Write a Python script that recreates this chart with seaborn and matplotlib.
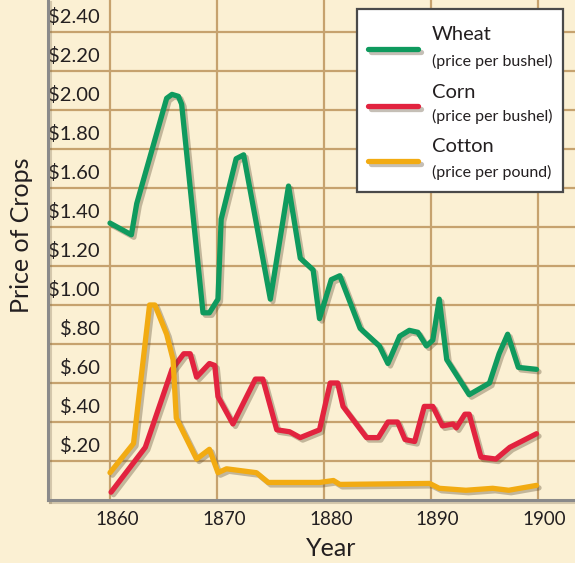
import pandas as pd
import matplotlib.pyplot as plt
import matplotlib.patheffects as pe
import matplotlib.transforms as mtransforms
from matplotlib.lines import Line2D
from matplotlib.patches import Rectangle
import seaborn as sns

# ==========================================
# DATA
# ==========================================

wheat_years = [1860.0, 1862.0, 1862.5, 1865.3, 1865.8, 1866.4, 1866.7, 1868.7,
               1869.3, 1870.1, 1870.4, 1871.8, 1872.5, 1875.0, 1876.7, 1877.8,
               1879.0, 1879.6, 1880.7, 1881.5, 1883.4, 1885.2, 1886.0, 1887.1,
               1888.0, 1888.8, 1889.6, 1890.2, 1890.8, 1891.5, 1893.6, 1895.5,
               1896.4, 1897.2, 1898.2, 1899.9]
wheat_prices = [1.42, 1.36, 1.52, 2.06, 2.08, 2.07, 2.03, 0.96,
                0.96, 1.03, 1.44, 1.75, 1.77, 1.03, 1.61, 1.24,
                1.18, 0.93, 1.13, 1.15, 0.88, 0.79, 0.70, 0.84,
                0.87, 0.86, 0.79, 0.82, 1.03, 0.72, 0.54, 0.60,
                0.75, 0.85, 0.68, 0.67]

corn_years = [1860.1, 1863.3, 1865.8, 1866.9, 1867.5, 1868.1, 1869.3, 1869.8,
              1870.1, 1871.5, 1873.6, 1874.3, 1875.6, 1876.8, 1877.8, 1879.6,
              1880.6, 1881.3, 1881.8, 1884.0, 1885.1, 1886.0, 1886.9, 1887.6,
              1888.5, 1889.4, 1890.2, 1891.1, 1892.1, 1892.4, 1893.2, 1893.6,
              1894.7, 1896.1, 1897.4, 1899.9]
corn_prices = [0.04, 0.27, 0.67, 0.75, 0.75, 0.63, 0.70, 0.69,
               0.53, 0.39, 0.62, 0.62, 0.36, 0.35, 0.32, 0.36,
               0.60, 0.60, 0.48, 0.32, 0.32, 0.40, 0.40, 0.31,
               0.30, 0.48, 0.48, 0.38, 0.39, 0.37, 0.44, 0.44,
               0.22, 0.21, 0.27, 0.34]

cotton_years = [1860.0, 1862.2, 1863.7, 1864.2, 1865.3, 1865.9, 1866.2, 1868.1,
                1869.3, 1870.1, 1870.9, 1873.7, 1874.8, 1879.6, 1880.9, 1881.5,
                1889.9, 1890.8, 1893.3, 1895.8, 1897.3, 1899.9]
cotton_prices = [0.14, 0.29, 1.00, 1.00, 0.85, 0.72, 0.42, 0.21,
                 0.26, 0.14, 0.16, 0.14, 0.09, 0.09, 0.10, 0.08,
                 0.085, 0.06, 0.05, 0.06, 0.05, 0.075]

crops = ["Wheat", "Corn", "Cotton"]
units = ["(price per bushel)", "(price per bushel)", "(price per pound)"]
colors = ["#0f9a5e", "#e2233f", "#f2ab12"]

y_ticks = [0.2, 0.4, 0.6, 0.8, 1.0, 1.2, 1.4, 1.6, 1.8, 2.0, 2.2, 2.4]
y_labels = ["$.20", "$.40", "$.60", "$.80", "$1.00", "$1.20", "$1.40",
            "$1.60", "$1.80", "$2.00", "$2.20", "$2.40"]
x_ticks = [1860, 1870, 1880, 1890, 1900]

df = pd.concat([
    pd.DataFrame({"Year": wheat_years, "Price": wheat_prices, "Crop": "Wheat"}),
    pd.DataFrame({"Year": corn_years, "Price": corn_prices, "Crop": "Corn"}),
    pd.DataFrame({"Year": cotton_years, "Price": cotton_prices, "Crop": "Cotton"}),
])

# ==========================================
# STYLE
# ==========================================

bg = "#fbf0d3"
grid_col = "#c6a26e"
font = ["Lato", "DejaVu Sans"]

sns.set_theme(style="white")
plt.rcParams["font.family"] = font
plt.rcParams["lines.solid_joinstyle"] = "round"
plt.rcParams["text.color"] = "#231f20"

W, H = 575, 563
fig = plt.figure(figsize=(W / 100, H / 100), dpi=100, facecolor=bg)
ax = fig.add_axes([48 / W, (H - 500) / H, 1 - 48 / W, 500 / H])
ax.set_facecolor(bg)


def px(x, y):
    return x / W, 1 - y / H


shadow = [pe.SimpleLineShadow(offset=(1.8, -1.8), shadow_color="#5a4a30", alpha=0.35),
          pe.Normal()]

sns.lineplot(
    data=df, x="Year", y="Price", hue="Crop",
    hue_order=crops, palette=colors,
    estimator=None, sort=False, linewidth=3.8,
    legend=False, ax=ax, zorder=3,
)
for line in ax.lines:
    line.set_path_effects(shadow)

ax.set_xlim(1854.2, 1903.5)
ax.set_ylim(0, 2.564)

ax.set_xticks(x_ticks)
ax.set_yticks(y_ticks)
ax.set_yticklabels(y_labels)

ax.grid(which="major", color=grid_col, linewidth=1.6)
ax.set_axisbelow(True)

ax.tick_params(axis="x", length=0, pad=8, labelsize=13.5, labelcolor="#231f20")
ax.tick_params(axis="y", length=0, pad=-37.4, labelsize=14.5, labelcolor="#231f20")

for lab in ax.get_yticklabels():
    lab.set_transform(lab.get_transform()
                      + mtransforms.ScaledTranslation(0, 0.165, fig.dpi_scale_trans))
for lab in ax.get_xticklabels():
    lab.set_transform(lab.get_transform()
                      + mtransforms.ScaledTranslation(0.07, 0, fig.dpi_scale_trans))

for side in ["top", "right"]:
    ax.spines[side].set_visible(False)
for side in ["left", "bottom"]:
    ax.spines[side].set_color("#8a8a8a")
    ax.spines[side].set_linewidth(2.2)
    ax.spines[side].set_path_effects(
        [pe.SimpleLineShadow(offset=(1.5, -1.5), shadow_color="#7a6a50", alpha=0.3),
         pe.Normal()])

ax.set_xlabel("")
ax.set_ylabel("")

fig.text(*px(331, 548), "Year", ha="center", va="center", fontsize=18)
fig.text(*px(22, 235), "Price of Crops", ha="center", va="center",
         rotation=90, fontsize=18)

# ==========================================
# LEGEND
# ==========================================

x0, y0 = px(357, 192)
x1, y1 = px(563, 9)
fig.add_artist(Rectangle((x0, y0), x1 - x0, y1 - y0, transform=fig.transFigure,
                         facecolor="white", edgecolor="#4a4a4a", linewidth=1.6,
                         zorder=5))

handle_y = [49, 106, 161]
title_y = [35, 92, 147]
unit_y = [61, 116, 172]
for crop, unit, col, hy, ty, uy in zip(crops, units, colors, handle_y, title_y, unit_y):
    (lx0, ly), (lx1, _) = px(368, hy), px(418, hy)
    fig.add_artist(Line2D([lx0, lx1], [ly, ly], transform=fig.transFigure,
                          color=col, linewidth=3.8, zorder=6,
                          path_effects=shadow))
    fig.text(*px(432, ty), crop, ha="left", va="center", fontsize=14.5, zorder=6)
    fig.text(*px(432, uy), unit, ha="left", va="center", fontsize=11.5, zorder=6)

fig.savefig("out.png", dpi=100, facecolor=bg)
